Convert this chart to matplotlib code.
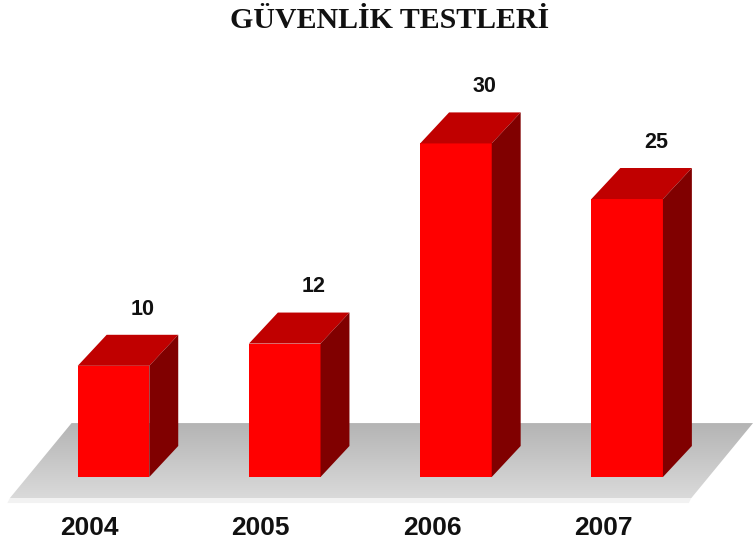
import numpy as np
import matplotlib
matplotlib.use("Agg")
import matplotlib.pyplot as plt
from matplotlib.patches import Polygon

# Data
years = ["2004", "2005", "2006", "2007"]
tests = [10, 12, 30, 25]
title = "GÜVENLİK TESTLERİ"

# Colours
front_col = "#ff0000"
top_col = "#c00000"
side_col = "#800000"

W, H = 753, 549
fig = plt.figure(figsize=(W / 100, H / 100), dpi=100)
ax = fig.add_axes([0, 0, 1, 1])
ax.set_xlim(-0.663, 3.735)
ax.set_ylim(-6.475, 42.9)
ax.axis("off")

bar_w = 0.418      # front face width (category units)
dx, dy = 0.169, 2.79  # depth offset of the 3D extrusion

# Floor: gradient-filled parallelogram, darker towards the back
floor_top, floor_bot = 4.85, -1.89
floor = Polygon([(-0.605, floor_bot), (-0.245, floor_top), (3.735, floor_top),
                 (3.375, floor_bot)], closed=True, facecolor="none",
                edgecolor="none")
ax.add_patch(floor)
grad = np.linspace(0, 1, 256).reshape(-1, 1)
cmap = matplotlib.colors.LinearSegmentedColormap.from_list(
    "floor", ["#b4b4b4", "#dadada"])
im = ax.imshow(grad, cmap=cmap, aspect="auto",
               extent=(-0.7, 3.8, floor_bot, floor_top), origin="upper",
               zorder=1)
im.set_clip_path(floor)
# thin light rim under the floor
ax.add_patch(Polygon([(-0.605, floor_bot), (3.375, floor_bot),
                      (3.36, floor_bot - 0.45), (-0.62, floor_bot - 0.45)],
                     closed=True, facecolor="#f2f2f2", edgecolor="none",
                     zorder=1))

x = np.arange(len(years))
ax.bar(x, tests, width=bar_w, color=front_col, linewidth=0, zorder=3)

for xi, v in zip(x, tests):
    l, r = xi - bar_w / 2, xi + bar_w / 2
    top = Polygon([(l, v), (l + dx, v + dy), (r + dx, v + dy), (r, v)],
                  closed=True, facecolor=top_col, edgecolor="none", zorder=3)
    side = Polygon([(r, 0), (r, v), (r + dx, v + dy), (r + dx, dy)],
                   closed=True, facecolor=side_col, edgecolor="none", zorder=3)
    ax.add_patch(top)
    ax.add_patch(side)
    ax.text(xi + dx, v + dy + 2.3, f"{v}", ha="center", va="center",
            fontsize=15.5, fontweight="bold", family="Liberation Sans",
            color="#111111", zorder=4)

for xi, lab in zip(x, years):
    ax.text(xi - 0.14, -4.55, lab, ha="center", va="center", fontsize=19,
            fontweight="bold", family="Liberation Sans", color="#111111",
            zorder=4)

fig.text(390 / W, 1 - 20 / H, title, ha="center", va="center", fontsize=21.5,
         fontweight="bold", family="Liberation Serif", color="#111111")

fig.savefig("out.png", dpi=100, facecolor="white")
